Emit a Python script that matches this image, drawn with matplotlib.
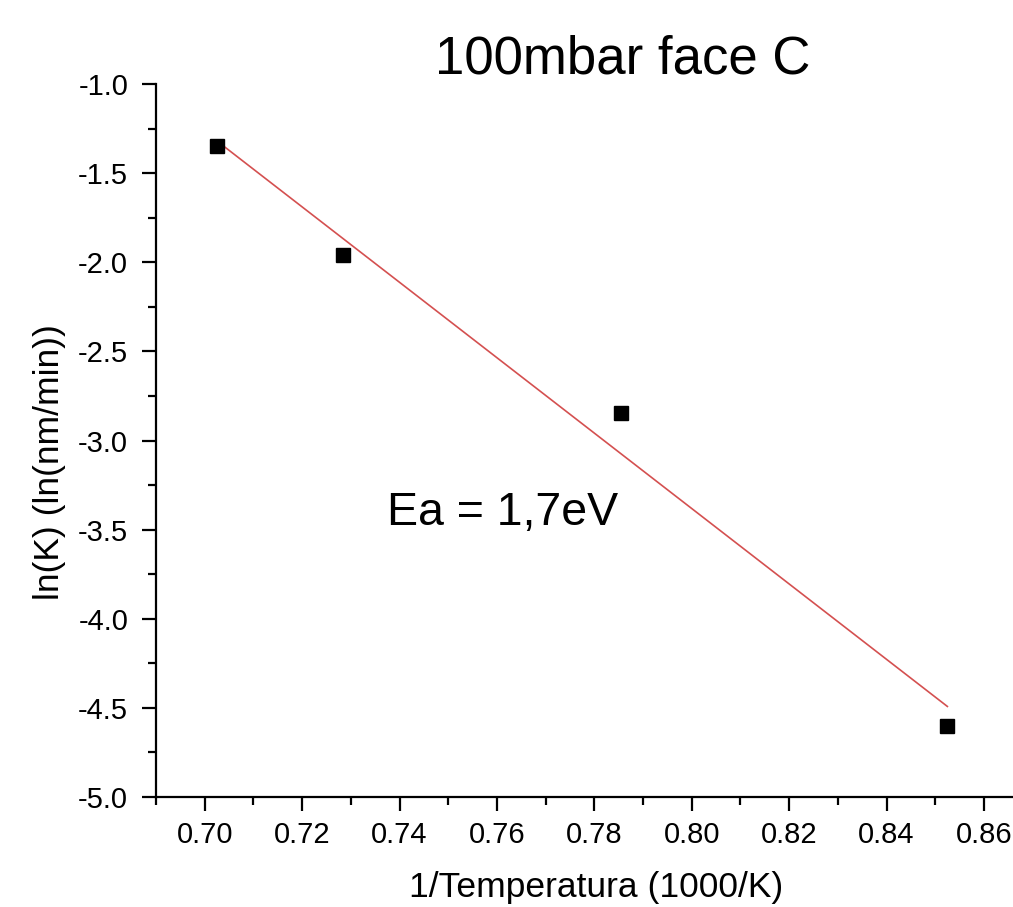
import numpy as np
import matplotlib
matplotlib.use("Agg")
import matplotlib.pyplot as plt
from matplotlib.ticker import MultipleLocator, FormatStrFormatter

# Data
inv_temp = [0.7026, 0.7283, 0.7855, 0.8525]
ln_k = [-1.346, -1.958, -2.847, -4.602]

title_text = "100mbar face C"
xlabel_text = "1/Temperatura (1000/K)"
ylabel_text = "ln(K) (ln(nm/min))"
annot_text = "Ea = 1,7eV"

plt.rcParams['font.family'] = ['Liberation Sans', 'DejaVu Sans']

W, H = 1013, 907
AX_L, AX_B, AX_W, AX_H = 156, 110, 876.6, 713
fig = plt.figure(figsize=(W / 100, H / 100), dpi=100)
ax = fig.add_axes([AX_L / W, AX_B / H, AX_W / W, AX_H / H])

x = np.array(inv_temp)
y = np.array(ln_k)
slope, intercept = np.polyfit(x, y, 1)
xf = np.array([x.min(), x.max()])
ax.plot(xf, slope * xf + intercept, color='#d45050', lw=1.2, zorder=2)
ax.plot(x, y, 's', color='black', markersize=10, zorder=3)

ax.set_xlim(0.69, 0.87)
ax.set_ylim(-5.0, -1.0)

ax.xaxis.set_major_locator(MultipleLocator(0.02))
ax.xaxis.set_minor_locator(MultipleLocator(0.01))
ax.yaxis.set_major_locator(MultipleLocator(0.5))
ax.yaxis.set_minor_locator(MultipleLocator(0.25))
ax.xaxis.set_major_formatter(FormatStrFormatter('%.2f'))
ax.yaxis.set_major_formatter(FormatStrFormatter('%.1f'))

for s in ['top', 'right']:
    ax.spines[s].set_visible(False)
for s in ['left', 'bottom']:
    ax.spines[s].set_linewidth(1.6)

ax.tick_params(which='major', direction='out', length=10, width=1.6,
               labelsize=21)
ax.tick_params(which='minor', direction='out', length=5.5, width=1.6)
ax.tick_params(axis='x', which='major', pad=7.5)
ax.tick_params(axis='y', which='major', pad=10)

ax.set_xlabel(xlabel_text, fontsize=25.5)
ax.xaxis.label.set_va('baseline')
ax.xaxis.set_label_coords((596 - AX_L) / AX_W, -(897 - 797) / AX_H)

ax.set_ylabel(ylabel_text, fontsize=25.5)
ax.yaxis.label.set_va('center')
ax.yaxis.label.set_ha('center')
ax.yaxis.set_label_coords((50 - AX_L) / AX_W, (797 - 462) / AX_H)

fig.text(623 / W, 1 - 73 / H, title_text, fontsize=38, ha='center', va='baseline')
ax.text(0.7374, -3.474, annot_text, fontsize=33.5, ha='left', va='baseline')

fig.savefig("out.png", dpi=100, facecolor='white')
